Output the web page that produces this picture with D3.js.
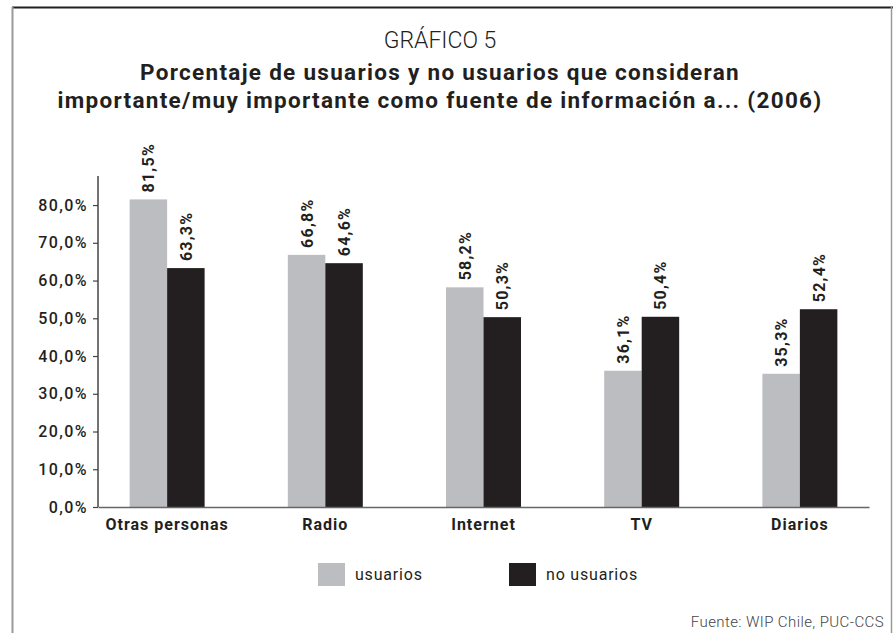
<!DOCTYPE html>
<html>
<head>
<meta charset="utf-8">
<script src="https://cdn.jsdelivr.net/npm/d3@7"></script>
<style>
  body { margin: 0; background: #fff; }
  svg { display: block; font-family: Roboto, "DejaVu Sans", sans-serif; }
</style>
</head>
<body>
<div id="chart"></div>
<script>
// Data
const categories = ['Otras personas', 'Radio', 'Internet', 'TV', 'Diarios'];
const series = ['usuarios', 'no usuarios'];
const usuarios = [81.5, 66.8, 58.2, 36.1, 35.3];
const noUsuarios = [63.3, 64.6, 50.3, 50.4, 52.4];
const yTicks = [0, 10, 20, 30, 40, 50, 60, 70, 80];

const COLORS = ['#bcbdc0', '#231f20'];
const width = 894, height = 633;
const fmt = (v) => d3.format('.1f')(v).replace('.', ',') + '%';

const svg = d3.select('#chart').append('svg')
  .attr('width', width)
  .attr('height', height);

// Frame
svg.append('line').attr('x1', 12).attr('x2', 893).attr('y1', 7.5).attr('y2', 7.5)
  .attr('stroke', '#231f20').attr('stroke-width', 2);
svg.append('line').attr('x1', 12.5).attr('x2', 12.5).attr('y1', 7).attr('y2', height)
  .attr('stroke', '#9a9a9a').attr('stroke-width', 2);
svg.append('line').attr('x1', 891.5).attr('x2', 891.5).attr('y1', 7).attr('y2', height)
  .attr('stroke', '#9a9a9a').attr('stroke-width', 1.5);

// Titles
svg.append('text')
  .attr('x', 440).attr('y', 48)
  .attr('text-anchor', 'middle')
  .attr('font-size', 23).attr('font-weight', 300)
  .attr('fill', '#231f20')
  .text('GRÁFICO 5');

const titleLines = [
  'Porcentaje de usuarios y no usuarios que consideran',
  'importante/muy importante como fuente de información a... (2006)',
];
svg.append('g').selectAll('text')
  .data(titleLines)
  .join('text')
  .attr('x', 440)
  .attr('y', (d, i) => 80 + i * 28)
  .attr('text-anchor', 'middle')
  .attr('font-size', 22.5).attr('font-weight', 'bold')
  .attr('letter-spacing', 1.3)
  .attr('fill', '#231f20')
  .text((d) => d);

// Scales
const x0 = d3.scaleBand()
  .domain(categories)
  .range([98, 869])
  .paddingInner(0.526)
  .paddingOuter(0.2);

const x1 = d3.scaleBand()
  .domain(series)
  .range([0, x0.bandwidth()]);

const y = d3.scaleLinear()
  .domain([0, 87.7])
  .range([507, 176]);

// Bars
const rows = categories.map((c, i) => ({ cat: c, values: [usuarios[i], noUsuarios[i]] }));

const groups = svg.append('g').selectAll('g')
  .data(rows)
  .join('g')
  .attr('transform', (d) => `translate(${x0(d.cat)},0)`);

groups.selectAll('rect')
  .data((d) => d.values.map((v, j) => ({ key: series[j], v, j })))
  .join('rect')
  .attr('x', (d) => x1(d.key))
  .attr('y', (d) => y(d.v))
  .attr('width', x1.bandwidth())
  .attr('height', (d) => y(0) - y(d.v))
  .attr('fill', (d) => COLORS[d.j]);

// Value labels (rotated)
groups.selectAll('text')
  .data((d) => d.values.map((v, j) => ({ key: series[j], v, j })))
  .join('text')
  .attr('transform', (d) => `translate(${x1(d.key) + x1.bandwidth() / 2 + 6},${y(d.v) - 7}) rotate(-90)`)
  .attr('font-size', 16).attr('font-weight', 'bold')
  .attr('letter-spacing', 1.2)
  .attr('fill', '#231f20')
  .text((d) => fmt(d.v));

// Y axis
const yAxis = svg.append('g')
  .attr('transform', 'translate(98,0)')
  .call(d3.axisLeft(y).tickValues(yTicks).tickSize(5).tickPadding(5).tickFormat(fmt));
yAxis.select('.domain').attr('stroke', '#444').attr('stroke-width', 1.5)
  .attr('d', `M0,${y(87.7)}V${y(0)}`);
yAxis.selectAll('.tick line').attr('stroke', '#444').attr('stroke-width', 1.2);
yAxis.selectAll('.tick text')
  .attr('font-size', 16).attr('font-weight', 500)
  .attr('letter-spacing', 1.4)
  .attr('fill', '#231f20')
  .attr('font-family', 'Roboto, sans-serif');

// X axis
const xAxis = svg.append('g')
  .attr('transform', `translate(0,${y(0)})`)
  .call(d3.axisBottom(x0).tickSize(0).tickPadding(12));
xAxis.select('.domain').attr('stroke', '#666').attr('stroke-width', 1.5);
xAxis.selectAll('.tick text')
  .attr('font-size', 16).attr('font-weight', 'bold')
  .attr('letter-spacing', 1.0)
  .attr('fill', '#231f20')
  .attr('font-family', 'Roboto, sans-serif');

// Legend
const legend = svg.append('g').selectAll('g')
  .data(series)
  .join('g')
  .attr('transform', (d, i) => `translate(${[318, 509][i]},563)`);
legend.append('rect')
  .attr('width', 27).attr('height', 23)
  .attr('fill', (d, i) => COLORS[i]);
legend.append('text')
  .attr('x', 37).attr('y', 17)
  .attr('font-size', 16)
  .attr('letter-spacing', 0.8)
  .attr('fill', '#231f20')
  .text((d) => d);

// Source
svg.append('text')
  .attr('x', 884).attr('y', 627)
  .attr('text-anchor', 'end')
  .attr('font-size', 15).attr('font-weight', 300)
  .attr('letter-spacing', 0.4)
  .attr('fill', '#444')
  .text('Fuente: WIP Chile, PUC-CCS');
</script>
</body>
</html>
